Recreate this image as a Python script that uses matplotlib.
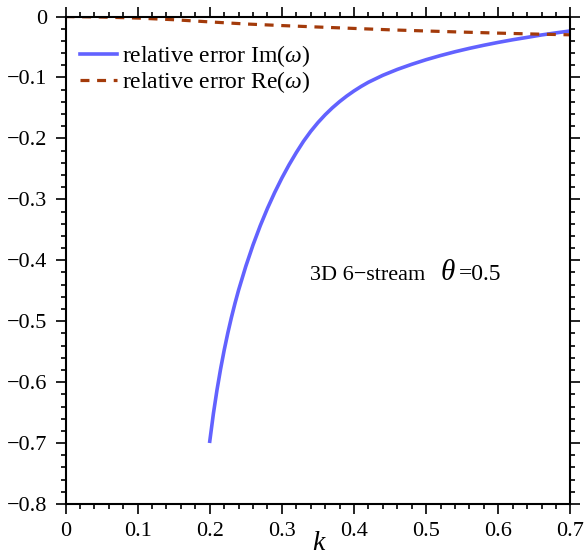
#%% IMPORTS ~~~~~~~~~~~~~~~~~~~~~~~~~~~~~~~~~~~~~~~~~~~~
import matplotlib
matplotlib.use('Agg')
import matplotlib.pyplot as plt
from matplotlib.ticker import AutoMinorLocator

#%% DATA ~~~~~~~~~~~~~~~~~~~~~~~~~~~~~~~~~~~~~~~~~~~~
# relative error of Im(omega), 3D 6-stream, theta = 0.5
k_im = [0.200, 0.205, 0.210, 0.215, 0.220, 0.225, 0.230, 0.235, 0.240, 0.250,
        0.260, 0.270, 0.280, 0.290, 0.300, 0.310, 0.320, 0.330, 0.340, 0.350,
        0.360, 0.370, 0.380, 0.390, 0.400, 0.410, 0.420, 0.440, 0.460, 0.480,
        0.500, 0.520, 0.540, 0.560, 0.580, 0.600, 0.620, 0.640, 0.660, 0.680, 0.700]
err_im = [-0.697, -0.652, -0.613, -0.5785, -0.5475, -0.5195, -0.494, -0.4705, -0.4488, -0.4098,
          -0.3748, -0.3433, -0.3148, -0.2888, -0.265, -0.2432, -0.2232, -0.2047, -0.1884, -0.174,
          -0.1612, -0.1498, -0.1396, -0.1304, -0.1221, -0.1146, -0.1078, -0.0964, -0.0868, -0.0784,
          -0.0708, -0.064, -0.0578, -0.0522, -0.0471, -0.0424, -0.0381, -0.0342, -0.0302, -0.0268, -0.0236]

# relative error of Re(omega)
k_re = [0.0, 0.05, 0.10, 0.15, 0.20, 0.25, 0.30, 0.35, 0.40, 0.45, 0.50, 0.55, 0.60, 0.65, 0.70]
err_re = [0.0, -0.0008, -0.0025, -0.0052, -0.0088, -0.0122, -0.0148, -0.0172, -0.0195,
          -0.0218, -0.0237, -0.0255, -0.0272, -0.0287, -0.0300]

x_ticks = [0, 0.1, 0.2, 0.3, 0.4, 0.5, 0.6, 0.7]
y_ticks = [0, -0.1, -0.2, -0.3, -0.4, -0.5, -0.6, -0.7, -0.8]

#%% CONFIGURATION ~~~~~~~~~~~~~~~~~~~~~~~~~~~~~~~~~~~~~~~~~~~~
plt.rcParams['font.family'] = ['Liberation Serif', 'DejaVu Serif']
plt.rcParams['mathtext.fontset'] = 'custom'
plt.rcParams['mathtext.rm'] = 'Liberation Serif'
plt.rcParams['mathtext.it'] = 'Liberation Serif:italic'

#%% PLOT ~~~~~~~~~~~~~~~~~~~~~~~~~~~~~~~~~~~~~~~~~~~~
fig = plt.figure(figsize=(5.85, 5.59), dpi=100)
ax = fig.add_axes([0.112, 0.0984, 0.863, 0.872])

ax.plot(k_im, err_im, color='#6262FF', lw=2.6, label=r'relative error Im($\mathit{\omega}$)')
ax.plot(k_re, err_re, color='#A33A0A', lw=2.3, dashes=(2.8, 2.4),
        label=r'relative error Re($\mathit{\omega}$)')

ax.set_xlim(0, 0.7)
ax.set_ylim(-0.8, 0)
ax.set_xticks(x_ticks)
ax.set_xticklabels(['0', '0.1', '0.2', '0.3', '0.4', '0.5', '0.6', '0.7'])
ax.set_yticks(y_ticks)
ax.set_yticklabels(['0'] + ['\u2212%.1f' % abs(v) for v in y_ticks[1:]])
ax.xaxis.set_minor_locator(AutoMinorLocator(5))
ax.yaxis.set_minor_locator(AutoMinorLocator(5))
ax.tick_params(which='both', direction='out', top=True, right=True,
               labelsize=16, width=1.2, colors='black')
ax.tick_params(which='major', length=7, pad=6)
ax.tick_params(which='minor', length=3.5)
for s in ax.spines.values():
    s.set_linewidth(1.5)

ax.set_xlabel('k', fontsize=20, style='italic', labelpad=-7)

leg = ax.legend(loc='upper left', frameon=False, fontsize=17,
                bbox_to_anchor=(0.0, 0.975), handlelength=1.6, handletextpad=0.2,
                labelspacing=0.0, borderaxespad=0.2)

ax.text(0.339, -0.432, '3D 6\u2212stream', fontsize=16, ha='left', va='baseline')
ax.text(0.520, -0.432, '\u03b8', fontsize=21, style='italic', ha='left', va='baseline')
ax.text(0.545, -0.432, '=0.5', fontsize=17, ha='left', va='baseline')

fig.savefig('out.png', dpi=100)
